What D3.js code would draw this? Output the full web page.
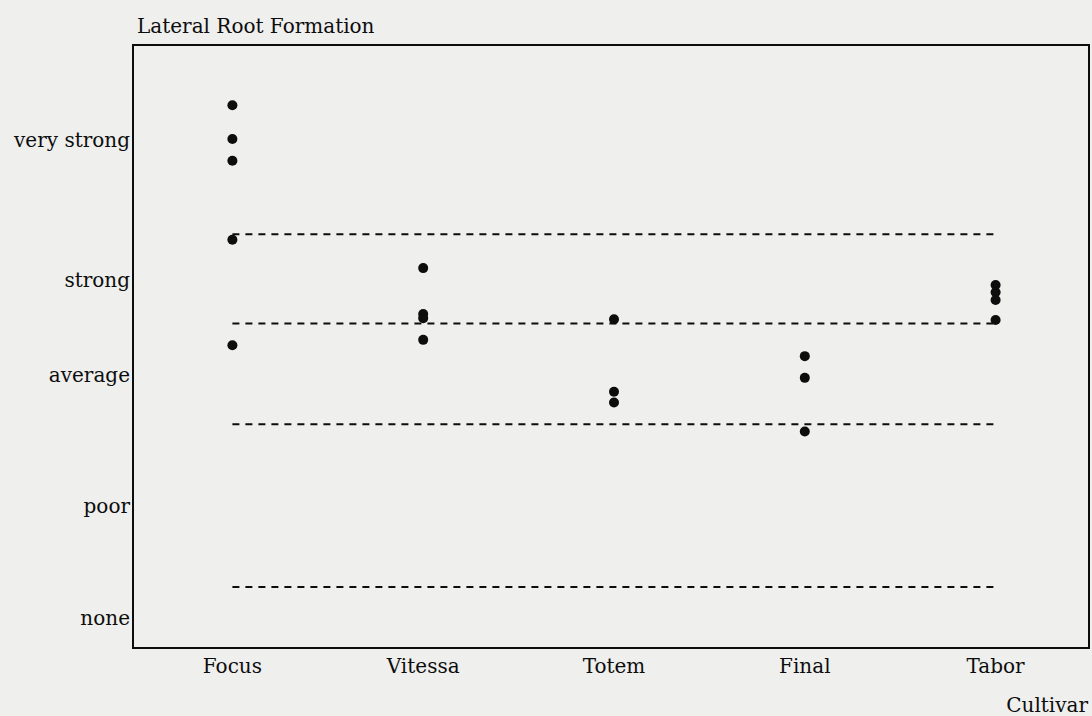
<!DOCTYPE html>
<html>
<head>
<meta charset="utf-8">
<script src="https://cdn.jsdelivr.net/npm/d3@7"></script>
<style>
  html, body { margin: 0; padding: 0; background: #efefed; }
  svg { display: block; }
</style>
</head>
<body>
<div id="chart"></div>
<script>
// cultivars on the x axis
const cultivars = ['Focus', 'Vitessa', 'Totem', 'Final', 'Tabor'];

// rating classes, bottom to top, and the score where each class ends (0-100 scale)
const ratingLabels = ['none', 'poor', 'average', 'strong', 'very strong'];
const ratingBreaks = [10.1, 37.1, 53.8, 68.6];

// individual plant scores per cultivar
const focusScores = [90.0, 84.4, 80.8, 67.7, 50.2];
const vitessaScores = [63.0, 55.4, 54.7, 51.1];
const totemScores = [54.5, 42.5, 40.7];
const finalScores = [48.4, 44.8, 35.9];
const taborScores = [60.2, 59.0, 57.7, 54.4];

const scoresByCultivar = [focusScores, vitessaScores, totemScores, finalScores, taborScores];

const width = 1092;
const height = 716;
const margin = { top: 45, right: 3, bottom: 68, left: 133 };
const FONT = '"DejaVu Serif", "Liberation Serif", serif';
const INK = '#0d0d0d';

const svg = d3.select('#chart').append('svg')
  .attr('width', width)
  .attr('height', height);

svg.append('rect').attr('width', width).attr('height', height).attr('fill', '#efefed');

const x = d3.scalePoint()
  .domain(cultivars)
  .range([margin.left + 4, width - margin.right + 2])
  .padding(0.5);

const y = d3.scaleLinear()
  .domain([0, 100])
  .range([height - margin.bottom, margin.top]);

// band centres for the rating labels
const bounds = [0, ...ratingBreaks, 100];
const labelPos = ratingLabels.map((label, i) => ({ label, v: (bounds[i] + bounds[i + 1]) / 2 }));

// dashed class boundaries, from first to last cultivar
svg.append('g').selectAll('line')
  .data(ratingBreaks)
  .join('line')
  .attr('x1', x(cultivars[0]))
  .attr('x2', x(cultivars[cultivars.length - 1]))
  .attr('y1', (d) => y(d))
  .attr('y2', (d) => y(d))
  .attr('stroke', INK)
  .attr('stroke-width', 2)
  .attr('stroke-dasharray', '7,6');

// points
const pts = cultivars.flatMap((c, i) => scoresByCultivar[i].map((v) => ({ c, v })));
svg.append('g').selectAll('circle')
  .data(pts)
  .join('circle')
  .attr('cx', (d) => x(d.c))
  .attr('cy', (d) => y(d.v))
  .attr('r', 5)
  .attr('fill', INK);

// frame
svg.append('rect')
  .attr('x', margin.left)
  .attr('y', margin.top)
  .attr('width', width - margin.left - margin.right)
  .attr('height', height - margin.top - margin.bottom)
  .attr('fill', 'none')
  .attr('stroke', INK)
  .attr('stroke-width', 2);

// y labels
svg.append('g').selectAll('text')
  .data(labelPos)
  .join('text')
  .attr('x', margin.left - 3)
  .attr('y', (d) => y(d.v))
  .attr('dy', '0.38em')
  .attr('text-anchor', 'end')
  .attr('font-family', FONT)
  .attr('font-size', 20)
  .attr('fill', INK)
  .text((d) => d.label);

// x labels
svg.append('g').selectAll('text')
  .data(cultivars)
  .join('text')
  .attr('x', (d) => x(d))
  .attr('y', 673)
  .attr('text-anchor', 'middle')
  .attr('font-family', FONT)
  .attr('font-size', 20)
  .attr('fill', INK)
  .text((d) => d);

svg.append('text')
  .attr('x', 137)
  .attr('y', 33)
  .attr('font-family', FONT)
  .attr('font-size', 20)
  .attr('fill', INK)
  .text('Lateral Root Formation');

svg.append('text')
  .attr('x', 1088)
  .attr('y', 712)
  .attr('text-anchor', 'end')
  .attr('font-family', FONT)
  .attr('font-size', 20)
  .attr('fill', INK)
  .text('Cultivar');
</script>
</body>
</html>
